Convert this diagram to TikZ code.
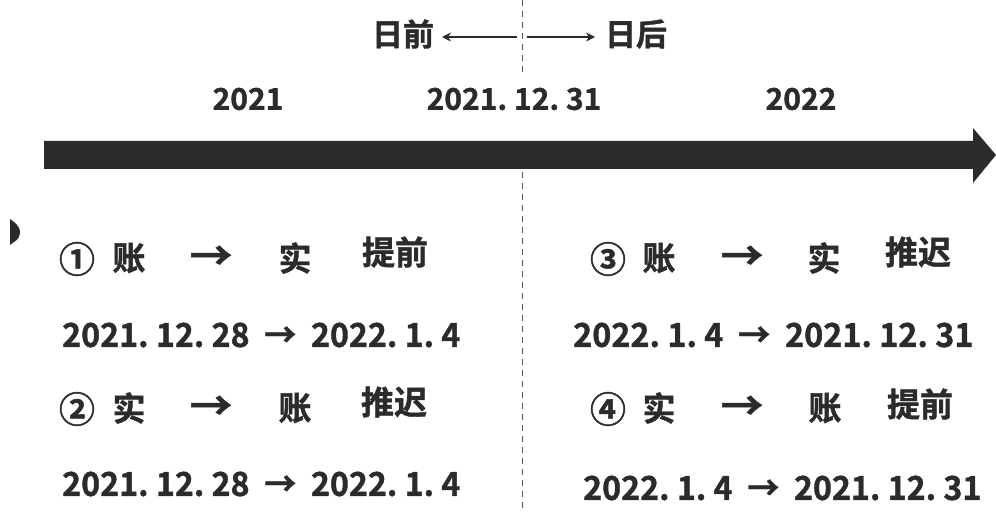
\documentclass[tikz,border=0pt]{standalone}
\usepackage{fontspec}
\usepackage{graphicx}
\setmainfont{Noto Sans CJK SC Bold}[FakeBold=1.2]
\usetikzlibrary{arrows.meta}
\definecolor{ink}{HTML}{2B2B2B}
\newcommand{\bigarr}{\scalebox{1.3}[1.2]{→}}
\tikzset{
  lbl/.style={font=\fontsize{33}{35}\selectfont, text=ink, inner sep=0pt},
  circ/.style={font=\fontsize{36}{38}\selectfont, text=ink, inner sep=0pt},
  num/.style={font=\fontsize{33}{35}\selectfont, text=ink, inner sep=0pt},
  year/.style={font=\fontsize{30}{32}\selectfont, text=ink, inner sep=0pt},
  small/.style={font=\fontsize{31}{33}\selectfont, text=ink, inner sep=0pt},
  thinarrow/.style={draw=ink, line width=2.4pt, -{Stealth[length=9pt,width=9pt]}},
  divider/.style={draw=ink!80, line width=1pt, dash pattern=on 6pt off 5pt}
}
\begin{document}
\begin{tikzpicture}[x=1pt,y=-1pt]
\useasboundingbox (0,0) rectangle (996,513);
% divider
\coordinate (v0) at (522,0);
\coordinate (v1) at (522,75);
\coordinate (v2) at (522,172);
\coordinate (v3) at (522,513);
\draw[divider] (v0) -- (v1);
\draw[divider] (v2) -- (v3);
% top
\node[small] (before) at (403,34) {日前};
\node[small] (after) at (636,34) {日后};
\coordinate (cl) at (517,37);
\coordinate (cr) at (527,37);
\coordinate (tl) at (442,37);
\coordinate (tr) at (595,37);
\draw[thinarrow] (cl) -- (tl);
\draw[thinarrow] (cr) -- (tr);
% years
\node[year] (y1) at (248,99) {2021};
\node[year] (y2) at (514,99) {2021.\ 12.\ 31};
\node[year] (y3) at (801,99) {2022};
% big arrow
\fill[ink] (44,141) -- (973,141) -- (973,128) -- (996,155) -- (973,183) -- (973,169) -- (44,169) -- cycle;
% small marker
\fill[ink] (10,219) -- (14,222) .. controls (19,226) and (20,230) .. (20,232) .. controls (20,236) and (18,240) .. (14,242) -- (10,245) -- cycle;
% left block
\node[circ] (c1) at (77,259) {①};
\node[lbl] (a1) at (129,258) {账};
\node[lbl] (r1) at (211,258) {\bigarr};
\node[lbl] (b1) at (295,258) {实};
\node[lbl] (t1) at (395,252) {提前};
\node[num, anchor=west] (d1) at (62,335) {\scalebox{0.975}[1]{2021.\ 12.\ 28 \ → \ 2022.\ 1.\ 4}};
\node[circ] (c2) at (77,409) {②};
\node[lbl] (a2) at (129,408) {实};
\node[lbl] (r2) at (211,408) {\bigarr};
\node[lbl] (b2) at (295,408) {账};
\node[lbl] (t2) at (394,402) {推迟};
\node[num, anchor=west] (d2) at (62,484) {\scalebox{0.975}[1]{2021.\ 12.\ 28 \ → \ 2022.\ 1.\ 4}};
% right block
\node[circ] (c3) at (608,259) {③};
\node[lbl] (a3) at (659,258) {账};
\node[lbl] (r3) at (742,258) {\bigarr};
\node[lbl] (b3) at (824,258) {实};
\node[lbl] (t3) at (918,252) {推迟};
\node[num, anchor=west] (d3) at (573,335) {\scalebox{0.98}[1]{2022.\ 1.\ 4 \ → \ 2021.\ 12.\ 31}};
\node[circ] (c4) at (608,409) {④};
\node[lbl] (a4) at (659,408) {实};
\node[lbl] (r4) at (742,408) {\bigarr};
\node[lbl] (b4) at (825,408) {账};
\node[lbl] (t4) at (920,404) {提前};
\node[num, anchor=west] (d4) at (583,488) {\scalebox{0.975}[1]{2022.\ 1.\ 4 \ → \ 2021.\ 12.\ 31}};
\end{tikzpicture}
\end{document}
